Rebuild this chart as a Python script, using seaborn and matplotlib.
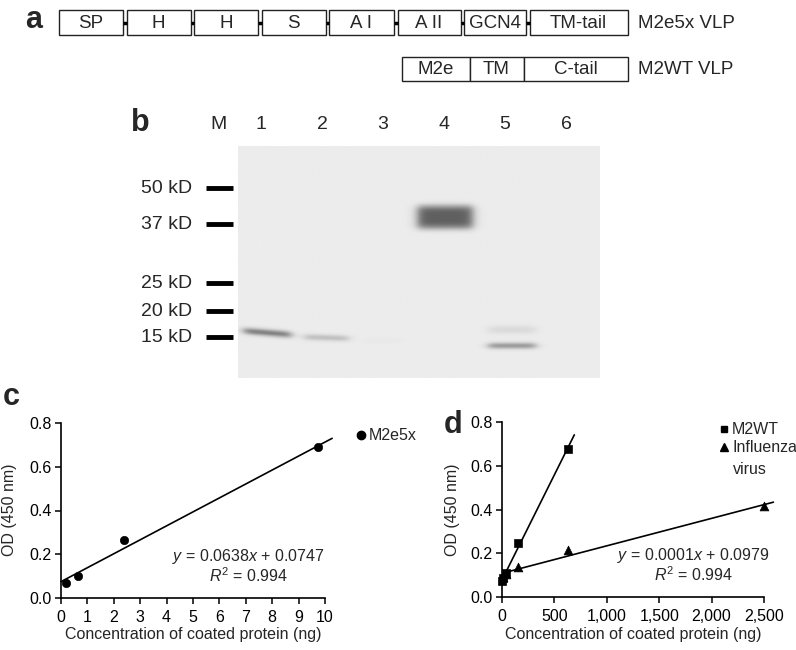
import numpy as np
import pandas as pd
import seaborn as sns
import matplotlib.pyplot as plt
from matplotlib.ticker import FuncFormatter

# ---- panel a: construct maps
m2e5x_domains = ['SP', 'H', 'H', 'S', 'A I', 'A II', 'GCN4', 'TM-tail']
m2e5x_lengths = [64, 64, 64, 64, 65, 63, 62, 98]
m2wt_domains = ['M2e', 'TM', 'C-tail']
m2wt_lengths = [68, 54, 104]
construct_names = ['M2e5x VLP', 'M2WT VLP']

# ---- panel b: western blot
lane_labels = ['M', '1', '2', '3', '4', '5', '6']
marker_kd = [50, 37, 25, 20, 15]
marker_migration = [42, 78, 137, 165, 191]
band_lane = [1.10, 2.07, 3.0, 4.02, 5.12, 5.12]
band_migration = [187, 192, 195, 71, 200, 184]
band_darkness = [0.42, 0.17, 0.015, 0.55, 0.32, 0.07]
band_sigma = [2.4, 2.2, 2.0, 10.0, 2.2, 3.0]
band_power = [2, 2, 2, 4, 2, 2]
band_halfwidth = [0.385, 0.36, 0.3, 0.45, 0.385, 0.38]
band_tilt = [5.0, 2.0, 0.0, 0.0, 0.0, 0.0]

# ---- panel c: M2e5x standard curve
c_conc = [0.2, 0.625, 2.4, 9.75]
c_od = [0.07, 0.10, 0.265, 0.69]
c_slope, c_intercept = 0.0638, 0.0747

# ---- panel d: M2WT and influenza virus
d_conc_m2wt = [2.4, 9.8, 39, 156, 625]
d_od_m2wt = [0.075, 0.085, 0.11, 0.245, 0.675]
d_conc_flu = [9.8, 39, 156, 625, 2500]
d_od_flu = [0.09, 0.105, 0.135, 0.215, 0.415]

W, H = 796, 650
sns.set_theme(style='white')
plt.rcParams['font.family'] = ['Liberation Sans', 'DejaVu Sans']
plt.rcParams['mathtext.fontset'] = 'custom'
plt.rcParams['mathtext.rm'] = 'Liberation Sans'
plt.rcParams['mathtext.it'] = 'Liberation Sans:italic'

fig = plt.figure(figsize=(W / 100, H / 100), dpi=100)
fig.patch.set_facecolor('white')


def fx(x):
    return x / W


def fy(y):
    return 1 - y / H


def add_ax(left, top, right, bottom):
    return fig.add_axes([fx(left), fy(bottom), fx(right) - fx(left), (bottom - top) / H])


def letter(s, x, y):
    fig.text(fx(x), fy(y), s, fontsize=22, fontweight='bold', ha='left', va='baseline')


# ================= panel a =================
ax_a = add_ax(0, 0, W, 92)
ax_a.set_xlim(0, W)
ax_a.set_ylim(92, 0)
ax_a.axis('off')

gap = 3.5
starts = []
x = 59
for w in m2e5x_lengths:
    starts.append(x)
    x += w + gap
ax_a.barh(22.5, m2e5x_lengths, left=starts, height=25, color='white',
          edgecolor='#222222', linewidth=1.0)
for s, w, name in zip(starts, m2e5x_lengths, m2e5x_domains):
    ax_a.text(s + w / 2, 23, name, ha='center', va='center', fontsize=13.5)
# small linkers between domains
for s, w in zip(starts[:-1], m2e5x_lengths[:-1]):
    ax_a.hlines(22.5, s + w, s + w + gap, color='black', lw=2.5)
row1_end = starts[-1] + m2e5x_lengths[-1]

wt_starts = list(row1_end - np.cumsum(m2wt_lengths[::-1]))[::-1]
ax_a.barh(69, m2wt_lengths, left=wt_starts, height=24, color='white',
          edgecolor='#222222', linewidth=1.0)
for s, w, name in zip(wt_starts, m2wt_lengths, m2wt_domains):
    ax_a.text(s + w / 2, 69.5, name, ha='center', va='center', fontsize=13.5)

for yy, name in zip([23, 70], construct_names):
    ax_a.text(row1_end + 10, yy, name, ha='left', va='center', fontsize=13.5)
letter('a', 25, 28)

# ================= panel b =================
ax_b = add_ax(238, 146, 600, 378)
u0, u1 = (238 - 261) / 61 + 1, (600 - 261) / 61 + 1
uu = np.linspace(u0, u1, 420)
mm = np.linspace(0, 232, 280)
U, M = np.meshgrid(uu, mm)
gel = np.full(U.shape, 0.925)
for c, m, d, sg, p, hw, t in zip(band_lane, band_migration, band_darkness,
                                 band_sigma, band_power, band_halfwidth, band_tilt):
    centre = m + t * (U - c)
    vert = np.exp(-0.5 * (np.abs(M - centre) / sg) ** p)
    horiz = 1 / (1 + np.exp((np.abs(U - c) - hw) / 0.045))
    gel -= d * vert * horiz
ax_b.imshow(gel, cmap='gray', vmin=0, vmax=1, extent=[u0, u1, 232, 0],
            aspect='auto', interpolation='bilinear')
ax_b.set_xlim(u0, u1)
ax_b.set_ylim(232, 0)
ax_b.axis('off')

lane_pos = [0.31] + list(range(1, 7))
for pos, lab in zip(lane_pos, lane_labels):
    ax_b.text(pos, -17, lab, ha='center', va='baseline', fontsize=14, clip_on=False)
ax_b.hlines(marker_migration, 0.098, 0.541, color='black', lw=3.5, clip_on=False)
for kd, m in zip(marker_kd, marker_migration):
    ax_b.text(-0.13, m, f'{kd} kD', ha='right', va='center', fontsize=14, clip_on=False)
letter('b', 131, 131)


# ================= panels c, d =================
def style_axis(ax):
    sns.despine(ax=ax)
    for sp in ['left', 'bottom']:
        ax.spines[sp].set_linewidth(1.2)
        ax.spines[sp].set_color('black')
    ax.tick_params(direction='out', length=4, width=1.1, labelsize=11.5,
                   color='black', labelcolor='black', pad=3,
                   bottom=True, left=True)
    ax.tick_params(axis='x', pad=4.5)
    ax.set_ylim(0, 0.8)
    ax.set_yticks([0, 0.2, 0.4, 0.6, 0.8])
    ax.yaxis.set_major_formatter(FuncFormatter(lambda v, _: f'{v:.1f}'))
    ax.set_xlabel('')
    ax.set_ylabel('')


ax_c = add_ax(61, 423, 325, 598)
df_c = pd.DataFrame({'conc': c_conc, 'od': c_od})
sns.scatterplot(data=df_c, x='conc', y='od', ax=ax_c, color='black', s=36,
                marker='o', edgecolor='black', zorder=3, clip_on=False)
fit_c = pd.DataFrame({'conc': [0, 10.27]})
fit_c['od'] = c_slope * fit_c['conc'] + c_intercept
sns.lineplot(data=fit_c, x='conc', y='od', ax=ax_c, color='black', lw=1.2)
ax_c.lines[-1].set_clip_on(False)
ax_c.set_xlim(0, 10)
ax_c.set_xticks(range(0, 11))
style_axis(ax_c)
ax_c.text(0.71, 0.235, r'$y$ = 0.0638$x$ + 0.0747', transform=ax_c.transAxes,
          ha='center', va='center', fontsize=11.5)
ax_c.text(0.71, 0.126, r'$R^2$ = 0.994', transform=ax_c.transAxes,
          ha='center', va='center', fontsize=11.5)
fig.text(fx(193), fy(635), 'Concentration of coated protein (ng)', ha='center',
         va='center', fontsize=11.5)
fig.text(fx(10), fy(510), 'OD (450 nm)', rotation=90, ha='center', va='center',
         fontsize=11.5)
fig.lines.append(plt.Line2D([fx(361)], [fy(435)], marker='o', ms=6, color='black',
                            transform=fig.transFigure))
fig.text(fx(369), fy(435), 'M2e5x', ha='left', va='center', fontsize=11.5)
letter('c', 3, 405)

ax_d = add_ax(502, 422, 764, 597)
df_m2 = pd.DataFrame({'conc': d_conc_m2wt, 'od': d_od_m2wt})
df_flu = pd.DataFrame({'conc': d_conc_flu, 'od': d_od_flu})
sns.scatterplot(data=df_m2, x='conc', y='od', ax=ax_d, color='black', s=36,
                marker='s', edgecolor='black', zorder=3, clip_on=False)
sns.scatterplot(data=df_flu, x='conc', y='od', ax=ax_d, color='black', s=40,
                marker='^', edgecolor='black', zorder=3, clip_on=False)
k1, b1 = np.polyfit(d_conc_m2wt, d_od_m2wt, 1)
k2, b2 = np.polyfit(d_conc_flu, d_od_flu, 1)
fit_m2 = pd.DataFrame({'conc': [10, 690]})
fit_m2['od'] = k1 * fit_m2['conc'] + b1
fit_flu = pd.DataFrame({'conc': [40, 2590]})
fit_flu['od'] = k2 * fit_flu['conc'] + b2
sns.lineplot(data=fit_m2, x='conc', y='od', ax=ax_d, color='black', lw=1.2)
sns.lineplot(data=fit_flu, x='conc', y='od', ax=ax_d, color='black', lw=1.2)
for ln in ax_d.lines[-2:]:
    ln.set_clip_on(False)
ax_d.set_xlim(0, 2500)
ax_d.set_xticks(range(0, 2501, 500))
ax_d.xaxis.set_major_formatter(FuncFormatter(lambda v, _: f'{v:,.0f}'))
style_axis(ax_d)
ax_d.text(0.73, 0.235, r'$y$ = 0.0001$x$ + 0.0979', transform=ax_d.transAxes,
          ha='center', va='center', fontsize=11.5)
ax_d.text(0.73, 0.126, r'$R^2$ = 0.994', transform=ax_d.transAxes,
          ha='center', va='center', fontsize=11.5)
fig.text(fx(633), fy(635), 'Concentration of coated protein (ng)', ha='center',
         va='center', fontsize=11.5)
fig.text(fx(453), fy(510), 'OD (450 nm)', rotation=90, ha='center', va='center',
         fontsize=11.5)
fig.lines.append(plt.Line2D([fx(724)], [fy(429)], marker='s', ms=5, color='black',
                            transform=fig.transFigure))
fig.lines.append(plt.Line2D([fx(724)], [fy(447)], marker='^', ms=5.5, color='black',
                            transform=fig.transFigure))
fig.text(fx(732), fy(429), 'M2WT', ha='left', va='center', fontsize=11.5)
fig.text(fx(732), fy(447), 'Influenza', ha='left', va='center', fontsize=11.5)
fig.text(fx(733), fy(469), 'virus', ha='left', va='center', fontsize=11.5)
letter('d', 444, 433)

fig.savefig('out.png', dpi=100, facecolor='white')
